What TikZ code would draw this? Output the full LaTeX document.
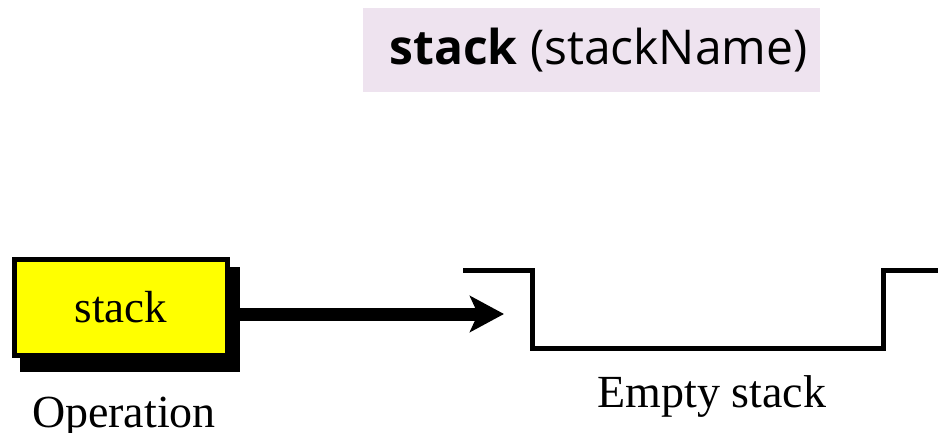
\documentclass[tikz,border=0pt]{standalone}
\usepackage{fontspec}
\setmainfont{Liberation Serif}
\newfontfamily\titlefont{Open Sans}
\usetikzlibrary{arrows.meta}
\definecolor{lav}{HTML}{EEE3EF}
\definecolor{yel}{HTML}{FFFF00}
\tikzset{
  lbl/.style={font=\fontsize{46}{50}\selectfont, inner sep=0pt},
  wall/.style={line width=5pt, line join=miter},
}
\begin{document}
\begin{tikzpicture}[x=1pt,y=1pt]
\useasboundingbox (0,0) rectangle (938,-433);
% title
\node[fill=lav, minimum width=457pt, minimum height=84pt, inner sep=0pt] (title) at (591.5,-50) {};
\node[inner sep=0pt, anchor=base] (titletext) at (598.5,-65)
  {\titlefont\fontsize{48}{52}\selectfont\textbf{stack} (stackName)};
% operation box with shadow
\fill[black] (20,-267) rectangle (240,-372);
\node[fill=yel, draw=black, line width=5pt, minimum width=213pt, minimum height=96pt, inner sep=0pt, font=\fontsize{45}{50}\selectfont] (op) at (121,-307.5) {stack};
\node[lbl, anchor=base] (oplbl) at (124,-427) {Operation};
% stack container
\coordinate (s1) at (463,-270);
\coordinate (s2) at (532,-270);
\coordinate (s3) at (532,-348);
\coordinate (s4) at (883,-348);
\coordinate (s5) at (883,-270);
\coordinate (s6) at (940,-270);
\draw[wall] (s1) -- (s2) -- (s3) -- (s4) -- (s5) -- (s6);
\node[lbl, anchor=base] (stlbl) at (712,-407) {Empty stack};
% arrow
\coordinate (tip) at (504,-314);
\draw[line width=13pt, -{Stealth[length=34pt, width=36pt, inset=8pt]}] (op.east) ++(9,-6.5) coordinate (astart) -- (astart -| tip) coordinate (aend);
\end{tikzpicture}
\end{document}
